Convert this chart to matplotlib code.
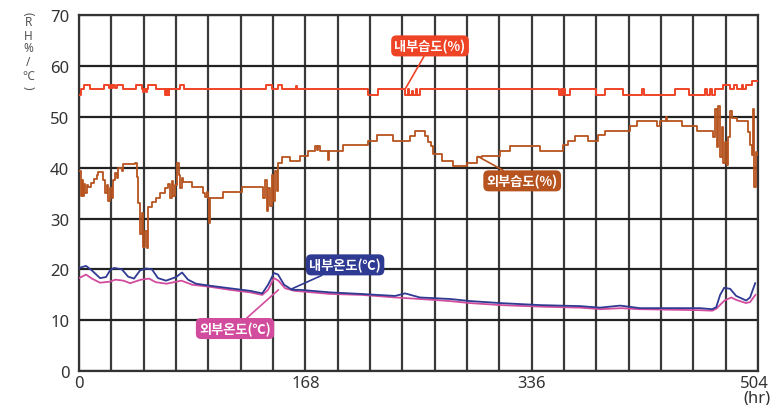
import matplotlib.pyplot as plt
from matplotlib.transforms import ScaledTranslation

plt.rcParams['font.family'] = ['Noto Sans CJK KR', 'DejaVu Sans']

# 내부습도(%) - step data (hr, %)
in_hum_hr = [0, 1.5, 3.5, 8.2, 18.6, 22.5, 23.5, 24.5, 25.5, 26.5, 28, 32.9, 42.3, 46.5, 47.7,
             48.5, 49.5, 50.5, 51.5, 57.1, 63.8, 64.5, 65.3, 66, 66.5, 67, 75, 78, 138.5, 143,
             147.4, 150.4, 161, 161.5, 214.7, 222.2, 242, 244, 245, 247, 248, 250, 251, 253,
             356.5, 357.5, 358.5, 359.5, 360.5, 362, 364.4, 383.5, 390.4, 392.9, 404, 417.6,
             419.5, 421.3, 429.3, 442.4, 453, 464.6, 466, 468, 470, 472, 474.5, 478.2, 483.2,
             486, 488, 491.8, 493, 495, 496.8, 499.3, 504]
in_hum = [54.3, 55.4, 56.2, 55.4, 56.2, 55.6, 56.2, 55.6, 56.2, 55.6, 56.2, 55.4, 56.2, 55.4, 54.8,
          55.4, 54.8, 55.4, 56.2, 55.4, 54.3, 55.4, 54.3, 55.4, 54.3, 55.4, 56.2, 55.4, 56.2, 55.4,
          56.2, 55.4, 56.0, 55.4, 54.3, 55.4, 54.3, 55.4, 54.3, 55.0, 54.3, 55.4, 54.3, 55.4,
          54.3, 55.4, 54.3, 55.4, 54.3, 54.3, 55.4, 54.3, 55.4, 55.4, 54.3, 55.4,
          54.3, 54.3, 54.3, 55.4, 54.3, 55.4, 54.3, 55.4, 54.3, 55.4, 55.4, 56.2, 55.4,
          56.2, 55.4, 56.2, 55.4, 56.2, 56.2, 57.0, 57.0]

# 외부습도(%)
out_hum_hr = [0, 1.5, 2.3, 3.2, 4.0, 4.8, 5.7, 6.9, 9.0, 11.0, 13.0, 14.4, 18.1, 19.3, 20.5,
              21.8, 23.0, 24.2, 25.5, 26.7, 28.0, 29.2, 31.7, 32.9, 37.9, 41.6, 42.8, 44.0,
              45.3, 46.5, 47.7, 49.0, 50.2, 51.5, 54.0, 57.1, 60.1, 63.8, 66.3, 67.5, 68.8,
              70.0, 71.2, 72.5, 74.5, 75.0, 76.2, 77.4, 83.6, 92.3, 93.5, 94.8, 96.0, 96.7,
              97.2, 107.1, 120.7, 131.9, 136.8, 138.0, 139.3, 140.5, 141.8, 143.0, 144.2,
              145.5, 146.7, 148.0, 150.4, 156.6, 164.0, 170.2, 175.2, 176.4, 177.6, 178.9,
              185.0, 185.8, 196.2, 214.7, 220.9, 233.3, 245.7, 249.4, 256.8, 259.3, 261.0,
              263.0, 269.2, 277.8, 287.7, 295.2, 298.9, 312.5, 319.9, 342.2, 359.5, 363.2,
              368.1, 378.0, 385.5, 390.4, 409.0, 413.9, 428.8, 431.2, 435.7, 436.7, 447.3,
              458.4, 470.8, 472.0, 473.3, 474.5, 475.8, 477.0, 478.2, 479.5, 480.7, 482.0,
              483.2, 484.4, 488.1, 496.8, 498.0, 499.3, 500.5, 501.2, 502.2, 503.0]
out_hum = [39.4, 34.5, 37.5, 34.5, 36.8, 35.0, 36.5, 36.2, 37.0, 37.8, 38.5, 39.2, 37.5, 35.0, 36.5,
           33.5, 36.0, 34.0, 37.5, 39.0, 38.0, 40.0, 39.4, 40.7, 40.8, 41.0, 38.1, 33.0,
           27.0, 31.0, 24.5, 27.5, 24.3, 32.2, 33.2, 34.1, 35.1, 36.0, 36.8, 34.0, 37.4,
           34.5, 36.5, 41.0, 38.5, 36.0, 38.0, 37.1, 36.1, 35.0, 34.3, 35.3, 34.1, 29.2,
           34.1, 35.3, 36.1, 36.2, 34.0, 37.5, 31.5, 36.0, 32.5, 38.5, 33.5,
           39.4, 35.5, 41.0, 42.1, 41.2, 42.3, 43.2, 44.3, 43.5, 44.3, 43.2,
           41.5, 43.2, 44.4, 45.3, 46.4, 45.3, 46.2, 47.2, 46.2, 45.0, 44.3,
           42.7, 41.2, 40.4, 41.0, 42.1, 42.3, 43.2, 44.3, 43.2, 44.5, 45.3,
           46.2, 45.3, 46.4, 47.2, 48.2, 49.2, 48.2, 49.2, 50.0, 49.2, 48.2,
           47.2, 46.0, 51.5, 44.0, 52.0, 42.0, 48.0, 41.0, 45.0, 40.5, 46.0,
           51.2, 49.8, 49.2, 47.0, 44.5, 42.5, 51.5, 36.1, 43.0, 42.5]

# 내부온도(℃)
in_temp_hr = [0, 5.2, 9.6, 15.6, 20, 23, 26, 31.9, 36.4, 40.8, 45.3, 49.7, 54.2, 58.6, 64.6, 72,
              76.5, 80.9, 86.8, 97.2, 112, 127, 136, 140.3, 144.7, 147.7, 152.2, 158.1, 164,
              186.3, 208.6, 234.6, 242, 253, 275.4, 290, 312.5, 342.2, 371.9, 386.7, 401.6,
              416.4, 461, 469.9, 472.9, 475.8, 478.8, 483.2, 487.7, 495.1, 498, 501.8]
in_temp = [20.3, 20.7, 19.8, 18.3, 18.5, 19.8, 20.3, 20.0, 18.6, 18.2, 19.8, 20.2, 20.0, 18.3, 17.8, 18.5,
           19.4, 18.0, 17.2, 16.8, 16.3, 15.8, 15.3, 17.0, 19.3, 19.0, 17.0, 16.0, 16.0,
           15.5, 15.2, 14.8, 15.3, 14.5, 14.2, 13.8, 13.4, 13.0, 12.8, 12.5, 12.9,
           12.4, 12.4, 12.2, 12.6, 15.0, 16.4, 16.2, 14.8, 13.9, 14.5, 17.3]

# 외부온도(℃)
out_temp_hr = [0, 5.2, 9.6, 15.6, 23, 27, 33, 38, 46, 52, 57, 65, 76, 84, 97, 112, 127, 136, 140.3,
               144.7, 148, 153, 160, 186, 210, 235, 253, 275, 290, 313, 342, 372, 387, 402, 416,
               461, 470, 473, 479, 484, 488, 495, 498, 502]
out_temp = [18.3, 19.0, 18.2, 17.4, 17.6, 18.0, 17.8, 17.3, 18.0, 18.2, 17.5, 17.2, 17.8, 17.0, 16.6,
            16.0, 15.5, 15.0, 16.0, 18.3, 17.8, 16.3, 15.8, 15.2, 15.0, 14.5, 14.2, 13.8, 13.4,
            13.0, 12.7, 12.5, 12.2, 12.4, 12.2, 12.0, 11.9, 12.3, 13.9, 14.5, 14.0, 13.4, 13.6, 15.0]

x_ticks = [0, 168, 336, 504]
y_ticks = [0, 10, 20, 30, 40, 50, 60, 70]

c_in_hum = '#ef4326'
c_out_hum = '#b6531f'
c_in_temp = '#2f3a92'
c_out_temp = '#d24c9e'

fig = plt.figure(figsize=(7.7, 4.06), dpi=100)
ax = fig.add_axes([0.1026, 0.083, 0.882, 0.878])

ax.set_xlim(0, 504)
ax.set_ylim(0, 70)

# 격자
for h in range(0, 505, 24):
    ax.axvline(h, color='#3a3a3a', lw=1.6, zorder=1)
for v in y_ticks:
    ax.axhline(v, color='#222222', lw=1.6, zorder=1)

ax.plot(out_temp_hr, out_temp, color=c_out_temp, lw=1.3, zorder=3)
ax.plot(in_temp_hr, in_temp, color=c_in_temp, lw=1.3, zorder=4)
ax.plot(out_hum_hr, out_hum, color=c_out_hum, lw=1.3, drawstyle='steps-post', zorder=3)
ax.plot(in_hum_hr, in_hum, color=c_in_hum, lw=1.4, drawstyle='steps-post', zorder=3)

for s in ax.spines.values():
    s.set_color('#333333')
    s.set_linewidth(1.6)

ax.set_xticks(x_ticks)
ax.set_yticks(y_ticks)
ax.tick_params(length=0, labelsize=12, colors='#333333', pad=3)
ax.tick_params(axis='y', pad=7)
for lab in ax.get_xticklabels() + ax.get_yticklabels():
    lab.set_family(['Noto Sans', 'DejaVu Sans'])
    lab.set_color('#333333')

# 504 라벨이 잘리지 않게 살짝 왼쪽으로
last = ax.get_xticklabels()[-1]
last.set_transform(last.get_transform() + ScaledTranslation(-4 / 100, 0, fig.dpi_scale_trans))

fig.text(757 / 770, 1 - 399 / 406, '(hr)', ha='center', va='center', fontsize=12, color='#333333',
         family=['Noto Sans', 'DejaVu Sans'])

# 세로 y축 라벨
ylab = ['(', 'R', 'H', '%', '/', '℃', ')']
ylab_y = [14, 23, 36, 49, 63, 77, 88]
for ch, yy in zip(ylab, ylab_y):
    rot = -90 if ch in '()' else 0
    fig.text(28 / 770, 1 - yy / 406, ch, ha='center', va='center', fontsize=8.5, color='#555555',
             rotation=rot, family=['Noto Sans', 'DejaVu Sans'])

def callout(text, xy, xytext, color):
    ax.annotate(text, xy=xy, xytext=xytext, color='white', fontsize=9.5, ha='center', va='center',
                fontweight='bold', zorder=6,
                bbox=dict(boxstyle='round,pad=0.25,rounding_size=0.4', fc=color, ec='none'),
                arrowprops=dict(arrowstyle='-', color=color, lw=1.2, shrinkA=0, shrinkB=0))

callout('내부습도(%)', (242, 55.4), (260.5, 63.9), c_in_hum)
callout('외부습도(%)', (296, 42.2), (328.9, 37.4), c_out_hum)
callout('내부온도(℃)', (158, 16.2), (197.5, 20.9), c_in_temp)
callout('외부온도(℃)', (148, 16.0), (115.8, 8.4), c_out_temp)

fig.savefig('out.png', dpi=100)
